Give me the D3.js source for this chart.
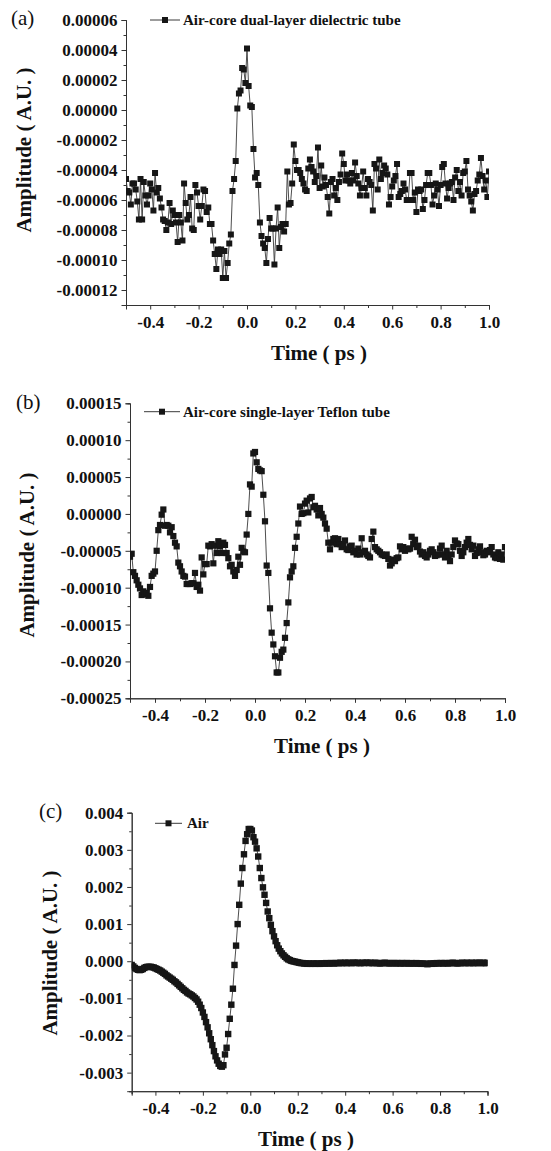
<!DOCTYPE html>
<html>
<head>
<meta charset="utf-8">
<script src="https://cdn.jsdelivr.net/npm/d3@7"></script>
<style>
  body { margin: 0; background: #fff; }
  svg { display: block; }
  text { font-family: "Liberation Serif", "Times New Roman", serif; fill: #111; }
</style>
</head>
<body>
<svg id="chart" width="551" height="1151"></svg>
<script>
// sampling of the time axis (ps)
const timeStart = -0.5;
const timeStep = 1 / 150;
const timeTicks = [-0.4, -0.2, 0.0, 0.2, 0.4, 0.6, 0.8, 1.0];
const timeMinorTicks = [-0.5, -0.3, -0.1, 0.1, 0.3, 0.5, 0.7, 0.9];

// (a) air-core dual-layer dielectric tube, amplitude in 1e-5 A.U.
const dualLayer = [
  -4.6, -5.4, -5.5, -6.3, -4.9, -4.9, -5.3, -6.1, -7.3, -4.6,
  -7.3, -4.8, -5.7, -6.3, -5.7, -4.9, -5.3, -6.7, -4.2, -5.5,
  -5.2, -5.9, -6.5, -7.3, -7.4, -8.0, -7.5, -6.2, -7.6, -6.7,
  -7.0, -7.5, -8.8, -7.0, -7.5, -8.7, -4.9, -6.2, -7.3, -7.0,
  -5.8, -7.9, -8.0, -5.0, -5.5, -6.4, -7.3, -6.4, -5.3, -5.4,
  -6.8, -6.5, -7.6, -7.6, -8.7, -9.6, -10.6, -9.3, -9.6, -9.3,
  -11.2, -9.4, -11.2, -10.2, -8.9, -8.3, -5.4, -4.6, -3.4, 0.1,
  1.1, 1.3, 2.8, 2.7, 1.8,
  4.1, 1.6, 0.3, 0.2, -2.6, -4.5, -4.2, -5.0, -7.5, -8.4,
  -8.9, -9.2, -10.2, -8.6, -7.2, -7.9, -7.9, -10.3, -7.9, -6.5,
  -9.2, -7.8, -7.6, -8.1, -7.6, -4.1, -6.3, -6.2,
  -4.9, -2.3, -3.4, -4.0, -4.0, -4.2, -4.6,
  -4.9, -5.3, -5.4, -3.9, -3.3, -3.8, -4.1,
  -4.8, -4.4, -2.5, -5.2, -3.7, -5.1, -4.5,
  -5.0, -5.8, -6.9, -4.8, -4.6, -5.7, -5.2,
  -6.0, -4.8, -4.3, -2.9, -3.6, -4.7, -4.3,
  -4.7, -4.9, -4.2, -4.7, -3.5, -4.4, -4.9,
  -5.7, -5.2, -4.1, -5.2, -5.7, -4.6, -4.8,
  -5.0, -6.7, -3.6, -3.9, -5.3, -3.3, -4.6,
  -4.2, -3.7, -3.9, -4.3, -6.3, -5.8, -5.1,
  -4.7, -4.4, -3.6, -5.8, -5.6, -5.4, -4.9,
  -5.3, -6.0, -6.0, -4.2, -4.2, -6.0, -5.5,
  -6.8, -5.3, -5.4, -5.3, -6.6, -6.0, -5.0,
  -4.2, -4.2, -5.0, -6.3, -5.7, -4.9, -5.3,
  -6.4, -5.0, -3.8, -3.6, -4.9, -5.9, -5.2,
  -4.9, -4.8, -6.0, -4.5, -4.0, -5.4, -4.8,
  -5.7, -4.2, -4.1, -3.4, -5.3, -5.7, -6.1,
  -6.7, -5.6, -5.4, -4.7, -4.3, -3.2, -4.4,
  -5.3, -4.7, -5.8, -4.1
];

// (b) air-core single-layer Teflon tube, amplitude in 1e-5 A.U.
const teflon = [
  -5.8, -5.4, -7.9, -8.4, -9.0, -9.6, -10.1, -11.0, -10.5, -10.9,
  -10.7, -11.1, -9.9, -8.4, -8.1, -7.8, -5.0, -2.2, -1.5, -0.1,
  0.6, -1.6, -1.5, -1.6, -2.5, -1.8, -3.0, -3.9, -4.4, -6.6,
  -7.1, -7.8, -8.4, -8.5, -9.5, -9.5, -9.5, -9.4, -9.4, -8.0,
  -9.9, -9.6, -10.4, -5.9, -8.2, -6.8, -6.8, -4.3, -4.4, -4.1,
  -6.7, -4.3, -5.3, -3.7, -4.4, -5.3, -3.9, -4.2, -5.3, -6.0,
  -7.1, -6.9, -7.8, -8.4, -7.6, -5.8, -6.9, -4.6, -5.1, -5.2,
  -2.8, 0.0, 4.0, 3.7, 8.2, 8.4,
  7.0, 6.1, 5.9, 5.8, 2.6, -1.0, -7.0, -8.0, -12.8, -16.1,
  -17.7, -19.3, -21.5, -21.5, -19.5, -18.7, -18.4, -16.8, -14.8, -12.0,
  -8.6, -7.8, -7.1, -4.6, -3.1, -1.3, 1.0,
  0.0, 0.1, 1.4, 1.8, 0.2, 2.1, 2.3, 0.9, 1.1, 0.6,
  -0.2, 0.8, 0.0, -0.5, -1.3, -2.0, -3.9, -4.8, -3.9, -3.4,
  -3.3, -4.1, -3.4, -4.1, -4.5, -4.1, -3.6, -4.8, -4.9, -4.4,
  -4.3, -5.2, -5.0, -5.5, -4.7, -5.5, -3.3, -5.2, -5.0, -5.5,
  -5.7, -5.9, -3.4, -2.4, -4.5, -4.8, -5.0, -5.2, -5.5, -5.6,
  -5.7, -5.5, -6.1, -7.0, -6.7, -6.2, -6.4, -6.0, -5.9, -4.4,
  -4.8,
  -4.5, -5.0, -4.7, -4.8, -4.7, -3.1, -4.1, -3.5, -4.5, -4.3,
  -5.1, -5.5, -5.2, -5.7, -5.9, -5.5, -5.0, -4.8, -5.2, -5.7,
  -5.6, -5.5, -4.7, -4.3, -5.5, -5.9, -5.0, -5.7, -6.4, -5.5,
  -4.5, -3.6, -4.0, -4.1, -5.0, -5.7, -5.2, -4.5, -3.9, -3.4,
  -4.2, -4.8, -4.3, -5.7, -5.3, -4.8, -4.4, -5.2, -5.6, -5.5,
  -5.0, -5.2, -4.9, -4.5, -5.5, -5.9, -6.0, -5.2, -6.1, -5.5,
  -6.2, -4.5
];

// (c) air, amplitude in 1e-3 A.U.
const air = [
  -0.10, -0.14, -0.18, -0.21, -0.23, -0.24, -0.23, -0.21, -0.18, -0.16,
  -0.15, -0.15, -0.15, -0.16, -0.17, -0.19, -0.21, -0.23, -0.25, -0.28,
  -0.31, -0.34, -0.38, -0.41, -0.44, -0.47, -0.50, -0.54, -0.57, -0.61,
  -0.65, -0.69, -0.73, -0.77, -0.80, -0.84, -0.87, -0.89, -0.92, -0.95,
  -0.99, -1.03, -1.09, -1.17, -1.26, -1.38, -1.50, -1.64, -1.78, -1.94,
  -2.10, -2.26, -2.42, -2.56, -2.67, -2.76, -2.82, -2.84, -2.80, -2.51,
  -2.33, -1.96, -1.55, -1.17, -0.74, -0.10, 0.42, 1.00, 1.52, 2.09,
  2.51, 2.88, 3.24, 3.42, 3.56, 3.56, 3.52, 3.34, 3.22, 3.04,
  2.82, 2.51, 2.24, 1.99, 1.79, 1.57, 1.34, 1.16, 0.98, 0.81,
  0.67, 0.54, 0.43, 0.34, 0.27, 0.21, 0.16, 0.12, 0.08, 0.05,
  0.03, 0.01, 0.00, -0.01, -0.02, -0.03,
  -0.04, -0.05, -0.05, -0.06, -0.06, -0.07, -0.06, -0.07, -0.07, -0.06, -0.07, -0.06, -0.07, -0.07, -0.06,
  -0.06, -0.06, -0.05, -0.06, -0.06, -0.05, -0.05, -0.06, -0.05, -0.05, -0.05, -0.04, -0.05, -0.05, -0.04,
  -0.05, -0.04, -0.05, -0.05, -0.04, -0.04, -0.05, -0.04, -0.05, -0.05, -0.04, -0.05, -0.04, -0.04, -0.05,
  -0.04, -0.05, -0.05, -0.04, -0.05, -0.05, -0.06, -0.05, -0.05, -0.04, -0.05, -0.05, -0.06, -0.05, -0.05,
  -0.05, -0.06, -0.05, -0.05, -0.06, -0.05, -0.06, -0.05, -0.05, -0.06, -0.06, -0.05, -0.06, -0.06, -0.05,
  -0.06, -0.06, -0.07, -0.06, -0.07, -0.07, -0.08, -0.07, -0.06, -0.07, -0.06, -0.06, -0.05, -0.06, -0.05,
  -0.05, -0.06, -0.05, -0.05, -0.06, -0.05, -0.05, -0.04, -0.05, -0.05, -0.06, -0.05, -0.05, -0.04, -0.05,
  -0.05, -0.04, -0.05, -0.05, -0.04, -0.05, -0.05, -0.04, -0.05, -0.04, -0.05, -0.04, -0.05, -0.05, -0.04
];

const seriesNames = ["Air-core dual-layer dielectric tube", "Air-core single-layer Teflon tube", "Air"];
const panelTags = ["(a)", "(b)", "(c)"];

const ampTicksA = [0.00006, 0.00004, 0.00002, 0, -0.00002, -0.00004, -0.00006, -0.00008, -0.0001, -0.00012];
const ampTicksB = [0.00015, 0.0001, 0.00005, 0, -0.00005, -0.0001, -0.00015, -0.0002, -0.00025];
const ampTicksC = [0.004, 0.003, 0.002, 0.001, 0, -0.001, -0.002, -0.003];

const fmtLocale = d3.formatLocale({decimal: ".", thousands: ",", grouping: [3], currency: ["", ""], minus: "-"});

// layout of each panel (pixels)
const panels = [
  {values: dualLayer, unit: 1e-5, domain: [-0.00013, 0.00006], ticks: ampTicksA, minorOffset: 0.00001, fmt: ".5f",
   left: 126, right: 489, top: 20, bottom: 305, mark: 6,
   yLabel: [31, 150], tag: [11, 25], legend: [150, 180, 183, 20], xTitle: [319, 360]},
  {values: teflon, unit: 1e-5, domain: [-0.00025, 0.00015], ticks: ampTicksB, minorOffset: 0.000025, fmt: ".5f",
   left: 130, right: 505, top: 403.3, bottom: 698.3, mark: 6.2,
   yLabel: [34, 555], tag: [16, 409], legend: [144, 180, 183, 411.7], xTitle: [322, 753]},
  {values: air, unit: 1e-3, domain: [-0.0035, 0.004], ticks: ampTicksC, minorOffset: 0.0005, fmt: ".3f",
   left: 131.7, right: 487.5, top: 812.7, bottom: 1091.2, mark: 6.4,
   yLabel: [57, 953], tag: [39, 818], legend: [155, 182, 187, 823.3], xTitle: [306, 1146]}
];

const svg = d3.select("#chart");

const styleAxis = (g) => {
  g.select(".domain").attr("stroke", "#333").attr("stroke-width", 1);
  g.selectAll(".tick line").attr("stroke", "#333").attr("stroke-width", 1);
  g.selectAll(".tick text")
    .attr("fill", "#111")
    .style("font-family", '"Liberation Serif", "Times New Roman", serif')
    .style("font-weight", "bold")
    .style("font-size", "17px");
};

panels.forEach((p, k) => {
  const x = d3.scaleLinear().domain([-0.5, 1.0]).range([p.left, p.right]);
  const y = d3.scaleLinear().domain(p.domain).range([p.bottom, p.top]);
  const g = svg.append("g");

  const points = p.values.map((v, i) => ({t: timeStart + i * timeStep, a: v * p.unit}));

  // minor ticks first, then the main axes over them
  const minor = p.ticks.map(v => v - p.minorOffset).filter(v => v >= p.domain[0] - 1e-12);
  g.append("g").attr("transform", `translate(${p.left},0)`)
    .call(d3.axisLeft(y).tickValues(minor).tickSize(2.5).tickFormat(""))
    .call(styleAxis);
  g.append("g").attr("transform", `translate(0,${p.bottom})`)
    .call(d3.axisBottom(x).tickValues(timeMinorTicks).tickSize(3).tickFormat(""))
    .call(styleAxis);

  g.append("g").attr("transform", `translate(${p.left},0)`)
    .call(d3.axisLeft(y).tickValues(p.ticks).tickSize(4.5).tickPadding(4).tickFormat(fmtLocale.format(p.fmt)))
    .call(styleAxis);
  g.append("g").attr("transform", `translate(0,${p.bottom})`)
    .call(d3.axisBottom(x).tickValues(timeTicks).tickSize(4.5).tickPadding(6).tickFormat(fmtLocale.format(".1f")))
    .call(styleAxis);

  // data, clipped to the plot frame
  const clipId = `clip${k}`;
  svg.append("clipPath").attr("id", clipId)
    .append("rect")
    .attr("x", p.left).attr("y", p.top - 4)
    .attr("width", p.right - p.left).attr("height", p.bottom - p.top + 4);

  const plot = g.append("g").attr("clip-path", `url(#${clipId})`);
  const line = d3.line().x(d => x(d.t)).y(d => y(d.a));
  plot.append("path").datum(points)
    .attr("d", line)
    .attr("fill", "none")
    .attr("stroke", "#3a3a3a")
    .attr("stroke-width", 0.9);

  const ms = p.mark;
  plot.selectAll("rect.mark").data(points).join("rect")
    .attr("class", "mark")
    .attr("x", d => x(d.t) - ms / 2)
    .attr("y", d => y(d.a) - ms / 2)
    .attr("width", ms).attr("height", ms)
    .attr("fill", "#161616");

  // legend
  const [lx0, lx1, tx, ly] = p.legend;
  g.append("line").attr("x1", lx0).attr("x2", lx1).attr("y1", ly).attr("y2", ly)
    .attr("stroke", "#3a3a3a").attr("stroke-width", 1);
  g.append("rect").attr("x", (lx0 + lx1) / 2 - 3).attr("y", ly - 3)
    .attr("width", 6).attr("height", 6).attr("fill", "#161616");
  g.append("text").attr("x", tx).attr("y", ly + 5)
    .style("font-weight", "bold").style("font-size", "15px")
    .text(seriesNames[k]);

  // panel tag
  g.append("text").attr("x", p.tag[0]).attr("y", p.tag[1])
    .style("font-size", "21px")
    .text(panelTags[k]);

  // axis titles
  g.append("text")
    .attr("transform", `translate(${p.yLabel[0]},${p.yLabel[1]}) rotate(-90)`)
    .attr("text-anchor", "middle")
    .style("font-weight", "bold").style("font-size", "21px")
    .text("Amplitude ( A.U. )");
  g.append("text")
    .attr("x", p.xTitle[0]).attr("y", p.xTitle[1])
    .attr("text-anchor", "middle")
    .style("font-weight", "bold").style("font-size", "21px")
    .text("Time ( ps )");
});
</script>
</body>
</html>
